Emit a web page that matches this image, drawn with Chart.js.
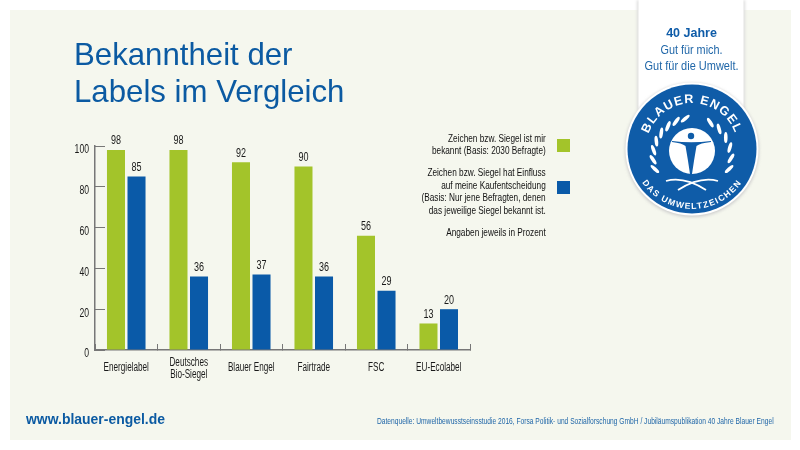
<!DOCTYPE html>
<html lang="de">
<head>
<meta charset="utf-8">
<title>Bekanntheit der Labels im Vergleich</title>
<script src="https://cdn.jsdelivr.net/npm/chart.js@4"></script>
<style>
  html, body { margin: 0; padding: 0; background: #fff; }
  #page { position: relative; width: 800px; height: 450px; overflow: hidden; font-family: "Liberation Sans", Arial, sans-serif; }
  #panel { position: absolute; left: 10px; top: 10px; width: 781px; height: 430px; background: #f5f7ee; }
  canvas { position: absolute; left: 0; top: 0; }
  .t { position: absolute; white-space: nowrap; line-height: 1; }
  #title { left: 74px; top: 36px; font-size: 31.2px; line-height: 37px; color: #0b5aa2; }
  #notes { right: 254px; top: 132px; text-align: right; font-size: 11px; line-height: 12.4px; color: #111; transform: scaleX(0.75); transform-origin: right top; }
  #notes div { margin-bottom: 9.6px; }
  .swatch { position: absolute; left: 557px; width: 13px; height: 13px; }
  #url { left: 26px; top: 411px; font-size: 15px; font-weight: bold; color: #0b5aa2; transform: scaleX(0.93); transform-origin: left top; }
  #source { right: 26px; top: 416px; font-size: 9.4px; color: #1f66a8; transform: scaleX(0.71); transform-origin: right top; }
  svg { position: absolute; left: 0; top: 0; }
</style>
</head>
<body>
<div id="page">
  <div id="panel"></div>
  <canvas id="chart" width="800" height="450"></canvas>
  <div class="t" id="title">Bekanntheit der<br>Labels im Vergleich</div>
  <div class="t" id="notes"></div>
  <div class="swatch" id="sw1" style="top:139px"></div>
  <div class="swatch" id="sw2" style="top:181px"></div>
  <div class="t" id="url">www.blauer-engel.de</div>
  <div class="t" id="source">Datenquelle: Umweltbewusstseinsstudie 2016, Forsa Politik- und Sozialforschung GmbH / Jubiläumspublikation 40 Jahre Blauer Engel</div>

  <svg width="800" height="450" viewBox="0 0 800 450" id="badge" font-family="Liberation Sans">
    <defs>
      <filter id="soft" x="-20%" y="-20%" width="140%" height="140%">
        <feGaussianBlur stdDeviation="1.5"/>
      </filter>
      <path id="arcTop" d="M 646 149 A 46 46 0 0 1 738 149"/>
      <path id="arcBottom" d="M 632 149 A 60 60 0 0 0 752 149"/>
    </defs>
    <rect x="637" y="0" width="108" height="110" fill="#ddd" filter="url(#soft)"/>
    <rect x="638.5" y="0" width="105" height="112" fill="#fff"/>
    <circle cx="692" cy="150" r="67" fill="#ccc" filter="url(#soft)"/>
    <circle cx="692" cy="149" r="66.5" fill="#fff"/>
    <circle cx="692" cy="149" r="64.5" fill="#0f5ca8"/>
    <text x="691.5" y="37" text-anchor="middle" font-weight="bold" font-size="12.5" fill="#0f5ca8">40 Jahre</text>
    <text x="691.5" y="54" text-anchor="middle" font-size="13.5" textLength="62" lengthAdjust="spacingAndGlyphs" fill="#1f66a8">Gut für mich.</text>
    <text x="691.5" y="70" text-anchor="middle" font-size="13.5" textLength="94" lengthAdjust="spacingAndGlyphs" fill="#1f66a8">Gut für die Umwelt.</text>
    <text font-weight="bold" font-size="12.5" letter-spacing="1.2" fill="#fff"><textPath href="#arcTop" startOffset="50%" text-anchor="middle">BLAUER ENGEL</textPath></text>
    <text font-weight="bold" font-size="8.6" letter-spacing="1.3" fill="#fff"><textPath href="#arcBottom" startOffset="50%" text-anchor="middle">DAS UMWELTZEICHEN</textPath></text>
    <circle cx="692" cy="151" r="23" fill="#fff"/>
    <circle cx="691" cy="136" r="3.2" fill="#0f5ca8"/>
    <path d="M 672 141 Q 691 143.5 711 141 L 711 142 Q 700 143 696.5 146 Q 694 160 692 174 L 690 174 Q 688 160 685.5 146 Q 682 143 672 142 Z" fill="#0f5ca8"/>
    <g id="leaves" fill="#fff"></g>
    <path d="M 666 181 Q 684 176 706 190 M 718 181 Q 700 176 678 190" fill="none" stroke="#fff" stroke-width="1.8"/>
  </svg>
</div>

<script>
// chart values
const categories = ['Energielabel', ['Deutsches', 'Bio-Siegel'], 'Blauer Engel', 'Fairtrade', 'FSC', 'EU-Ecolabel'];
const bekannt = [98, 98, 92, 90, 56, 13];
const einfluss = [85, 36, 37, 36, 29, 20];
const yTicks = [0, 20, 40, 60, 80, 100];
const noteBlocks = [
  ['Zeichen bzw. Siegel ist mir', 'bekannt (Basis: 2030 Befragte)'],
  ['Zeichen bzw. Siegel hat Einfluss', 'auf meine Kaufentscheidung', '(Basis: Nur jene Befragten, denen', 'das jeweilige Siegel bekannt ist.'],
  ['Angaben jeweils in Prozent']
];
const leftLeaves = [198, 184, 170, 156, 142, 128, 114, 100];
const rightLeaves = [62, 46, 30, 14, -2, -18];

const GREEN = '#a3c42a';
const BLUE = '#0a5aa8';
const AXIS = '#777';
const TEXT = '#1a1a1a';

document.getElementById('sw1').style.background = GREEN;
document.getElementById('sw2').style.background = BLUE;
document.getElementById('notes').innerHTML = noteBlocks.map(b => '<div>' + b.join('<br>') + '</div>').join('');

// wreath leaves
const leaves = document.getElementById('leaves');
function addLeaf(a, tilt) {
  const r = a * Math.PI / 180;
  const x = 692 + 39 * Math.cos(r);
  const y = 157 - 39 * Math.sin(r);
  const el = document.createElementNS('http://www.w3.org/2000/svg', 'ellipse');
  el.setAttribute('cx', x);
  el.setAttribute('cy', y);
  el.setAttribute('rx', 5.5);
  el.setAttribute('ry', 1.8);
  el.setAttribute('transform', 'rotate(' + (90 - a + tilt) + ' ' + x + ' ' + y + ')');
  leaves.appendChild(el);
}
leftLeaves.forEach(a => addLeaf(a, -30));
rightLeaves.forEach(a => addLeaf(a, 30));

// no narrow font installed, so labels get squeezed
function squeezedText(ctx, text, x, y, squeeze) {
  ctx.save();
  ctx.translate(x, y);
  ctx.scale(squeeze, 1);
  ctx.fillText(text, 0, 0);
  ctx.restore();
}

// bar values and axis labels
const labelsPlugin = {
  id: 'labelsPlugin',
  afterDraw(chart) {
    const ctx = chart.ctx;
    ctx.save();
    ctx.font = '12px "Liberation Sans", sans-serif';
    ctx.fillStyle = TEXT;
    ctx.textAlign = 'center';
    ctx.textBaseline = 'bottom';
    chart.data.datasets.forEach((ds, i) => {
      chart.getDatasetMeta(i).data.forEach((bar, j) => {
        squeezedText(ctx, ds.data[j], bar.x, bar.y - 3, 0.75);
      });
    });
    ctx.textBaseline = 'middle';
    categories.forEach((label, i) => {
      const x = chart.scales.x.getPixelForTick(i);
      if (Array.isArray(label)) {
        squeezedText(ctx, label[0], x, 363, 0.68);
        squeezedText(ctx, label[1], x, 375, 0.68);
      } else {
        squeezedText(ctx, label, x, 368, 0.68);
      }
    });
    ctx.textAlign = 'right';
    yTicks.forEach(v => {
      squeezedText(ctx, v, 89, chart.scales.y.getPixelForValue(v) + 4, 0.72);
    });
    ctx.restore();
  }
};

new Chart(document.getElementById('chart').getContext('2d'), {
  type: 'bar',
  data: {
    labels: categories,
    datasets: [
      { label: 'Zeichen bzw. Siegel ist mir bekannt', data: bekannt, backgroundColor: GREEN },
      { label: 'Zeichen bzw. Siegel hat Einfluss', data: einfluss, backgroundColor: BLUE }
    ]
  },
  options: {
    responsive: false,
    animation: false,
    categoryPercentage: 0.657,
    barPercentage: 0.878,
    layout: { padding: { left: 0, top: 146, right: 330, bottom: 0 } },
    plugins: { legend: { display: false }, tooltip: { enabled: false } },
    scales: {
      x: {
        afterFit(scale) { scale.height = 100; },
        border: { color: AXIS, width: 1.5 },
        grid: { drawOnChartArea: false, tickLength: -6, tickColor: AXIS, tickWidth: 1 },
        ticks: { display: false, autoSkip: false }
      },
      y: {
        min: 0,
        max: 100,
        afterFit(scale) { scale.width = 95; },
        afterBuildTicks(scale) { scale.ticks = yTicks.map(v => ({ value: v })); },
        border: { color: AXIS, width: 1.5 },
        grid: { drawOnChartArea: false, tickLength: -10, tickColor: AXIS, tickWidth: 1 },
        ticks: { display: false }
      }
    }
  },
  plugins: [labelsPlugin]
});
</script>
</body>
</html>
